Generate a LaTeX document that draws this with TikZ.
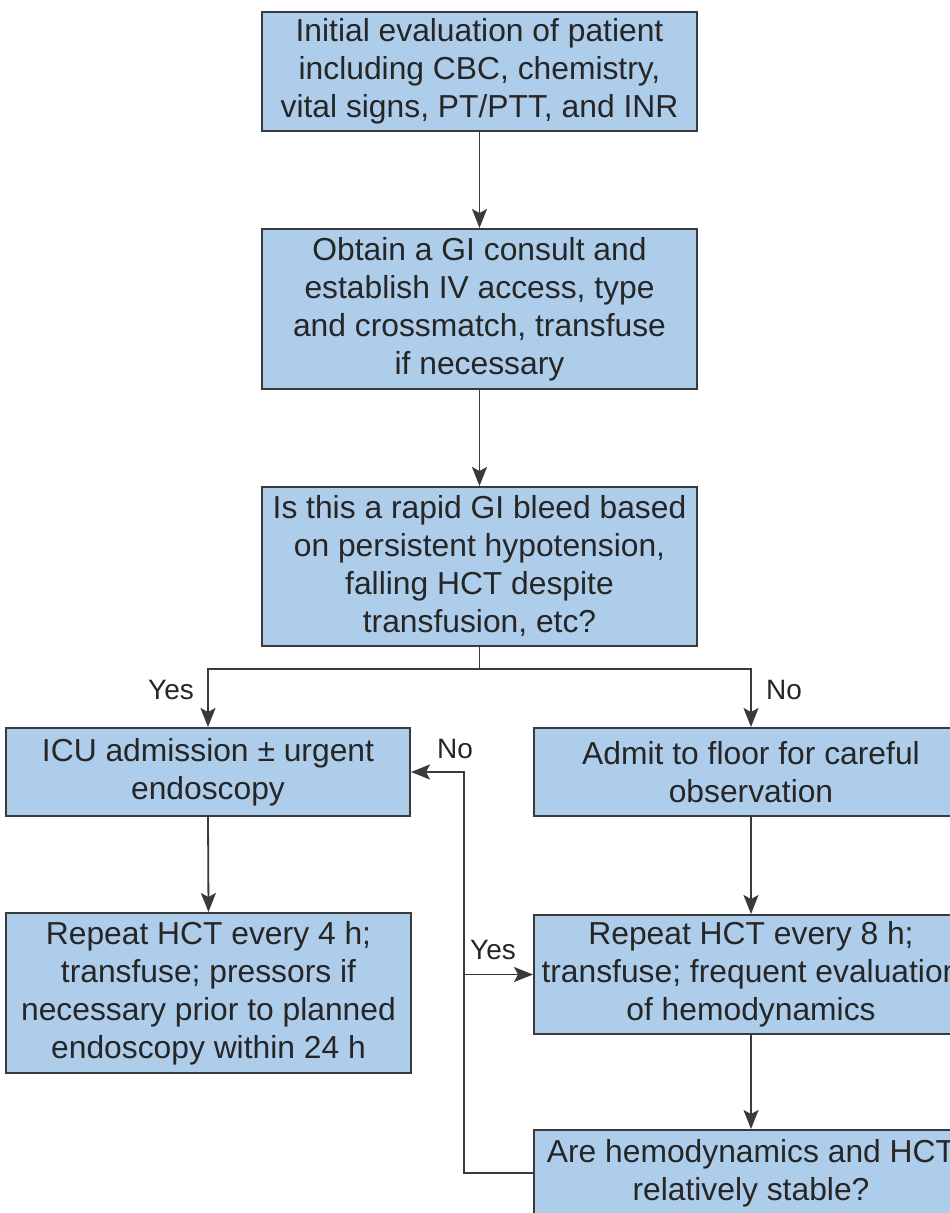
\documentclass[tikz,border=0pt]{standalone}
\usepackage{fontspec}
\setmainfont{Liberation Sans}
\usetikzlibrary{arrows.meta}
\definecolor{boxfill}{HTML}{AECDEB}
\definecolor{boxline}{HTML}{3A3A3A}
\definecolor{txt}{HTML}{262626}
\tikzset{
  stepbox/.style={draw=boxline, line width=2pt, fill=boxfill, text=txt,
    inner sep=0pt, align=center, font=\fontsize{31.8}{38}\selectfont},
  lbl/.style={text=txt, inner sep=0pt, font=\fontsize{28}{32}\selectfont},
  conn/.style={draw=boxline, line width=1.8pt},
  arr/.style={conn, -{Stealth[length=19pt,width=15pt,inset=4pt]}}
}
\begin{document}
\begin{tikzpicture}[x=1pt,y=-1pt]
\fill[white] (0,0) rectangle (950,1213);
\useasboundingbox (0,0) rectangle (950,1213);
\clip (0,0) rectangle (950,1213);

\node[stepbox, minimum width=435pt, minimum height=119pt] (n1) at (479.5,71.5)
  {Initial evaluation of patient\\including CBC, chemistry,\\vital signs, PT/PTT, and INR};
\node[stepbox, minimum width=435pt, minimum height=160pt] (n2) at (479.5,309)
  {Obtain a GI consult and\\establish IV access, type\\and crossmatch, transfuse\\if necessary};
\node[stepbox, minimum width=435pt, minimum height=159pt] (n3) at (479.5,566.5)
  {Is this a rapid GI bleed based\\on persistent hypotension,\\falling HCT despite\\transfusion, etc?};
\node[stepbox, minimum width=404pt, minimum height=88pt] (n4) at (208,772)
  {ICU admission \raisebox{0pt}{±} urgent\\endoscopy};
\node[stepbox, minimum width=434pt, minimum height=88pt] (n5) at (751,772)
  {Admit to floor for careful\\observation};
\node[stepbox, minimum width=405pt, minimum height=160pt] (n6) at (208.5,993)
  {Repeat HCT every 4 h;\\transfuse; pressors if\\necessary prior to planned\\endoscopy within 24 h};
\node[stepbox, minimum width=434pt, minimum height=119pt] (n7) at (751,974.5)
  {Repeat HCT every 8 h;\\transfuse; frequent evaluation\\of hemodynamics};
\node[stepbox, minimum width=434pt, minimum height=86pt] (n8) at (751,1173)
  {Are hemodynamics and HCT\\relatively stable?};

\coordinate (s) at (479.5,669);
\coordinate (lb) at (464,1173);

\draw[arr] (n1.south) -- (n2.north);
\draw[arr] (n2.south) -- (n3.north);
\draw[conn] (n3.south) -- (s);
\draw[arr] (s) -| (n4.north);
\draw[arr] (s) -| (n5.north);
\draw[arr] (n4.south) -- (n6.north);
\draw[arr] (n5.south) -- (n7.north);
\draw[arr] (n7.south) -- (n8.north);
\draw[arr] (n8.west) -- (lb) |- (n4.east);
\draw[arr] (lb |- n7.west) -- (n7.west);

\node[lbl] (yes1) at (171,690) {Yes};
\node[lbl] (no1) at (784,690) {No};
\node[lbl] (no2) at (455,749) {No};
\node[lbl] (yes2) at (493,950) {Yes};
\end{tikzpicture}
\end{document}
